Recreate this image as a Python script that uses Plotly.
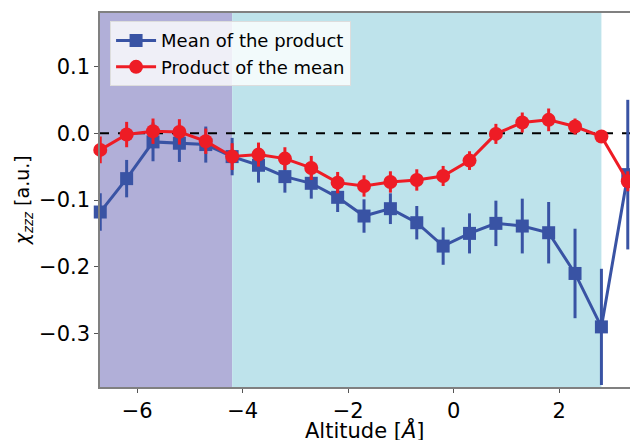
import plotly.graph_objects as go

altitude = [-6.7, -6.2, -5.7, -5.2, -4.7, -4.2, -3.7, -3.2, -2.7, -2.2, -1.7,
            -1.2, -0.7, -0.2, 0.3, 0.8, 1.3, 1.8, 2.3, 2.8, 3.3]
mean_of_product = [-0.118, -0.068, -0.013, -0.015, -0.017, -0.035, -0.048, -0.065,
                   -0.075, -0.096, -0.124, -0.113, -0.134, -0.169, -0.150, -0.135,
                   -0.139, -0.149, -0.210, -0.290, -0.062]
mean_of_product_err = [0.028, 0.028, 0.029, 0.028, 0.027, 0.028, 0.026, 0.024,
                       0.023, 0.022, 0.025, 0.023, 0.025, 0.028, 0.030, 0.034,
                       0.041, 0.046, 0.067, 0.087, 0.112]
product_of_mean = [-0.025, -0.002, 0.003, 0.002, -0.012, -0.035, -0.032, -0.038,
                   -0.052, -0.074, -0.079, -0.073, -0.070, -0.064, -0.041, -0.001,
                   0.016, 0.020, 0.010, -0.005, -0.072]
product_of_mean_err = [0.020, 0.019, 0.019, 0.019, 0.019, 0.020, 0.018, 0.017,
                       0.018, 0.016, 0.016, 0.016, 0.016, 0.015, 0.014, 0.015,
                       0.015, 0.017, 0.012, 0.008, 0.015]
region_bounds = [-6.705, -4.2, 2.8]
x_range = [-6.705, 3.342]
y_range = [-0.38, 0.18]
x_ticks = [-6, -4, -2, 0, 2]
y_ticks = [-0.3, -0.2, -0.1, 0.0, 0.1]
x_title = "Altitude [<i>Å</i>]"
y_title = "<i>χ</i><sub><i>zzz</i></sub> [a.u.]"

BLUE = "#3953a4"
RED = "#ee1c25"
FONT = "DejaVu Sans"

fig = go.Figure()

fig.add_shape(type="rect", xref="x", yref="paper", x0=region_bounds[0], x1=region_bounds[1],
              y0=0, y1=1, fillcolor="#b1afd8", line_width=0, layer="below")
fig.add_shape(type="rect", xref="x", yref="paper", x0=region_bounds[1], x1=region_bounds[2],
              y0=0, y1=1, fillcolor="#bee3eb", line_width=0, layer="below")
fig.add_shape(type="line", xref="paper", yref="y", x0=0, x1=1, y0=0, y1=0,
              line=dict(color="black", width=2, dash="dash"), layer="below")

fig.add_trace(go.Scatter(
    x=altitude, y=mean_of_product, name="Mean of the product",
    mode="lines+markers",
    line=dict(color=BLUE, width=3),
    marker=dict(symbol="square", size=13, color=BLUE),
    error_y=dict(type="data", array=mean_of_product_err, color=BLUE, thickness=3, width=0),
    cliponaxis=False,
))
fig.add_trace(go.Scatter(
    x=altitude, y=product_of_mean, name="Product of the mean",
    mode="lines+markers",
    line=dict(color=RED, width=3),
    marker=dict(symbol="circle", size=14, color=RED),
    error_y=dict(type="data", array=product_of_mean_err, color=RED, thickness=3, width=0),
    cliponaxis=False,
))

fig.add_annotation(text=x_title, xref="paper", yref="paper", x=0.5, y=-0.075,
                   xanchor="center", yanchor="top", showarrow=False,
                   font=dict(size=21, family=FONT, color="black"))
fig.add_annotation(text=y_title, xref="paper", yref="paper", x=-0.145, y=0.5,
                   xanchor="center", yanchor="middle", showarrow=False, textangle=-90,
                   font=dict(size=19, family=FONT, color="black"))

fig.update_layout(
    width=630, height=440,
    margin=dict(l=100, r=0, t=13, b=53, autoexpand=False),
    paper_bgcolor="white", plot_bgcolor="white",
    font=dict(family=FONT, size=21, color="black"),
    showlegend=True,
    legend=dict(x=0.019, y=0.978, xanchor="left", yanchor="top",
                bgcolor="rgba(255,255,255,0.8)", bordercolor="#dddddd", borderwidth=1,
                font=dict(size=18, family=FONT), itemwidth=40,
                tracegroupgap=0),
)
fig.update_xaxes(
    range=x_range, tickvals=x_ticks, showgrid=False, zeroline=False, automargin=False,
    showline=True, linecolor="#808080", linewidth=1.5, mirror=True,
    ticks="outside", ticklen=4, tickcolor="#555555",
)
fig.update_yaxes(
    range=y_range, tickvals=y_ticks, tickformat=".1f", showgrid=False, zeroline=False,
    automargin=False,
    showline=True, linecolor="#808080", linewidth=1.5, mirror=True,
    ticks="outside", ticklen=4, tickcolor="#555555",
)

fig.write_html(
    "out.html",
    config={"displayModeBar": False},
    post_script="document.body.style.margin='0';document.body.style.overflow='hidden';",
)
